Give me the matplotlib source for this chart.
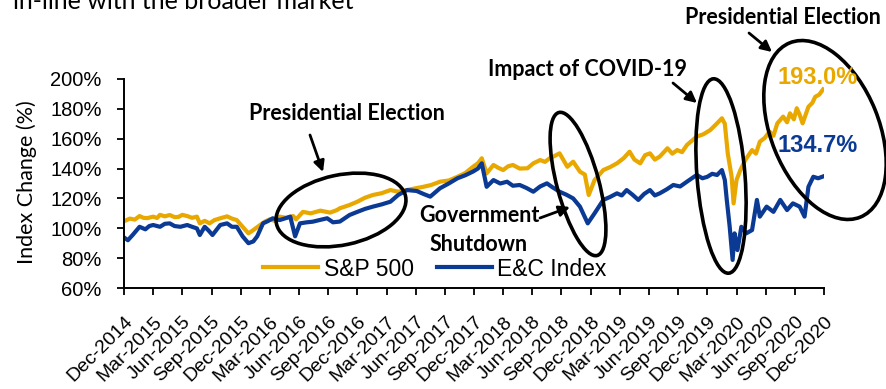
import matplotlib
matplotlib.use("Agg")
import matplotlib.pyplot as plt
import matplotlib.transforms as mtransforms
from matplotlib.patches import Ellipse
from matplotlib.ticker import FuncFormatter

# ---------------- data (x = months since Dec-2014) ----------------
tick_labels = ["Dec-2014", "Mar-2015", "Jun-2015", "Sep-2015", "Dec-2015", "Mar-2016",
               "Jun-2016", "Sep-2016", "Dec-2016", "Mar-2017", "Jun-2017", "Sep-2017",
               "Dec-2017", "Mar-2018", "Jun-2018", "Sep-2018", "Dec-2018", "Mar-2019",
               "Jun-2019", "Sep-2019", "Dec-2019", "Mar-2020", "Jun-2020", "Sep-2020",
               "Dec-2020"]

sp_months = [0.1, 0.6, 1.1, 1.6, 2.0, 2.4, 3.0, 3.4, 3.7, 4.2, 4.7, 5.2, 5.6, 6.0, 6.5,
             7.0, 7.5, 7.8, 8.3, 8.8, 9.3, 9.9, 10.6, 11.1, 11.6, 12.2, 12.8, 13.3, 14.0,
             14.5, 15.0, 15.5, 16.0, 16.7, 17.4, 17.7, 18.4, 19.2, 20.2, 21.2, 21.9, 22.2,
             23.2, 24.0, 24.8, 25.6, 26.5, 27.4, 28.2, 29.1, 30.0, 30.8, 31.6, 32.5, 33.4,
             34.3, 35.1, 35.9, 36.4, 36.8, 37.3, 38.0, 38.5, 39.0, 39.5, 40.0, 40.7, 41.5,
             42.1, 42.8, 43.3, 43.8, 44.3, 44.8, 45.6, 46.2, 46.9, 47.4, 47.8, 48.4, 49.3,
             50.0, 50.7, 51.4, 52.0, 52.5, 53.1, 53.6, 54.1, 54.6, 55.1, 55.9, 56.4, 56.9,
             57.4, 57.9, 58.9, 59.6, 60.3, 61.0, 61.5, 61.8, 62.1, 62.5, 62.7, 63.0, 63.4,
             63.9, 64.6, 65.0, 65.4, 65.9, 66.4, 66.8, 67.2, 67.8, 68.2, 68.5, 68.9, 69.2,
             69.5, 69.8, 70.4, 70.8, 71.1, 71.5, 71.9]
sp_values = [105.0, 106.5, 105.8, 108.2, 107.0, 106.8, 107.8, 106.9, 109.0, 108.0, 108.9,
             107.5, 107.6, 109.0, 108.2, 107.0, 107.8, 103.3, 105.0, 103.3, 105.5, 106.7,
             108.0, 106.5, 105.5, 101.0, 96.6, 98.8, 102.2, 104.5, 106.0, 105.0, 107.8,
             107.0, 108.2, 106.0, 111.0, 110.0, 111.8, 110.5, 112.2, 113.4, 115.6, 117.8,
             120.5, 122.3, 123.5, 125.6, 124.5, 125.6, 126.8, 127.8, 129.0, 131.2, 132.0,
             134.5, 137.0, 141.2, 143.5, 146.9, 136.8, 142.4, 140.5, 139.0, 141.5, 142.4,
             140.0, 140.2, 143.5, 145.7, 144.5, 146.9, 148.5, 150.2, 141.2, 144.6, 137.9,
             136.0, 122.3, 132.3, 139.0, 141.0, 143.5, 147.0, 151.3, 146.0, 143.5, 149.0,
             150.2, 146.0, 148.0, 153.6, 150.0, 152.4, 151.0, 155.8, 161.4, 163.0, 165.8,
             170.3, 173.7, 170.0, 150.2, 134.5, 116.7, 132.3, 139.0, 145.7, 152.4, 150.0,
             158.0, 160.5, 164.7, 162.0, 170.3, 174.8, 171.0, 177.0, 173.0, 180.4, 176.0,
             170.3, 181.4, 184.0, 188.1, 189.5, 193.0]

ec_months = [0.1, 0.4, 0.9, 1.6, 2.2, 2.6, 3.0, 3.7, 4.2, 4.7, 5.2, 5.8, 6.5, 7.0, 7.5,
             7.8, 8.3, 8.7, 9.1, 9.9, 10.6, 11.1, 11.6, 12.2, 12.8, 13.3, 13.7, 14.3, 14.8,
             15.3, 16.0, 16.5, 17.1, 17.6, 18.1, 18.8, 19.4, 20.1, 20.9, 21.5, 22.2, 23.2,
             24.0, 24.8, 25.6, 26.5, 27.4, 28.2, 29.1, 30.1, 30.8, 31.5, 32.5, 33.4, 34.3,
             35.1, 35.9, 36.4, 36.8, 37.3, 38.0, 38.7, 39.4, 40.0, 40.7, 41.4, 42.1, 42.8,
             43.5, 44.0, 44.8, 45.5, 46.2, 46.9, 47.7, 48.4, 49.3, 50.0, 50.7, 51.2, 51.7,
             52.3, 52.9, 53.5, 54.1, 54.6, 55.1, 55.8, 56.5, 57.2, 57.9, 58.9, 59.5, 60.0,
             60.5, 61.0, 61.5, 61.8, 62.0, 62.3, 62.6, 62.8, 63.1, 63.5, 64.0, 64.6, 65.1,
             65.4, 66.1, 66.8, 67.5, 68.2, 68.8, 69.5, 70.0, 70.4, 70.9, 71.4, 71.9]
ec_values = [93.4, 92.0, 95.6, 101.0, 99.3, 101.5, 102.2, 101.0, 103.0, 103.3, 101.5,
             101.0, 102.2, 101.0, 99.9, 95.5, 101.0, 98.5, 95.5, 102.2, 103.3, 101.0, 101.0,
             94.6, 90.0, 91.2, 94.6, 103.3, 104.8, 106.7, 105.5, 106.5, 107.8, 94.6, 103.3,
             104.0, 104.4, 105.5, 106.7, 104.0, 104.5, 108.9, 111.0, 113.0, 114.5, 116.0,
             117.8, 122.3, 125.6, 125.0, 123.0, 121.2, 126.8, 130.0, 133.5, 135.5, 138.0,
             140.0, 143.5, 127.8, 132.3, 130.0, 131.2, 128.5, 129.0, 127.0, 124.5, 128.0,
             130.1, 127.8, 124.5, 122.5, 120.0, 114.5, 103.3, 110.0, 119.0, 121.0, 123.4,
             122.0, 125.6, 122.5, 119.0, 123.0, 125.6, 122.0, 123.4, 126.0, 129.0, 128.0,
             131.2, 135.7, 133.5, 134.5, 136.5, 135.7, 139.0, 132.3, 119.0, 101.0, 78.8,
             96.6, 85.4, 101.0, 96.6, 98.8, 119.0, 107.8, 114.5, 111.0, 119.0, 112.2, 116.7,
             114.5, 107.8, 127.8, 134.5, 133.5, 134.7]

series_names = ["S&P 500", "E&C Index"]
end_labels = ["193.0%", "134.7%"]

GOLD = "#E9A800"
BLUE = "#0B3A94"

W, H = 887, 389
fig = plt.figure(figsize=(W / 100, H / 100), dpi=100)
ax = fig.add_axes([124 / W, 101 / H, 700 / W, 209 / H])

ax.plot(sp_months, sp_values, color=GOLD, lw=3, solid_joinstyle="round", label=series_names[0])
ax.plot(ec_months, ec_values, color=BLUE, lw=3, solid_joinstyle="round", label=series_names[1])

ax.set_xlim(0, 72)
ax.set_ylim(60, 200)
ax.set_xticks(range(0, 73, 3))
ax.set_xticklabels(tick_labels, rotation=45, ha="right", rotation_mode="anchor",
                   family="Liberation Sans", fontsize=14)
ax.set_yticks(range(60, 201, 20))
ax.yaxis.set_major_formatter(FuncFormatter(lambda v, p: f"{v:.0f}%"))
for lab in ax.get_yticklabels():
    lab.set_family("Liberation Sans")
    lab.set_fontsize(14.5)
ax.tick_params(axis="x", direction="out", length=5, width=1.3, pad=13)
ax.tick_params(axis="y", direction="out", length=5, width=1.3, pad=11)
for s in ["top", "right"]:
    ax.spines[s].set_visible(False)
for s in ["left", "bottom"]:
    ax.spines[s].set_linewidth(1.4)
    ax.spines[s].set_color("black")

leg = ax.legend(loc="center left", bbox_to_anchor=(263 / W, 1 - 269 / H),
                bbox_transform=fig.transFigure, ncol=2, frameon=False,
                prop={"family": "Liberation Sans", "size": 16.5}, handlelength=2.4,
                handletextpad=0.25, columnspacing=1.0, borderpad=0, borderaxespad=0)
for l in leg.get_lines():
    l.set_linewidth(3)

# pixel transform (origin top-left)
px = mtransforms.Affine2D().scale(1, -1).translate(0, H)

fig.text(27 / W, 1 - 182 / H, "Index Change (%)", rotation=90, ha="center", va="center",
         family="Lato", fontsize=15.5)
fig.text(13 / W, 1 - 9 / H, "in-line with the broader market", ha="left", va="baseline",
         family="Lato", fontsize=18)

bold = dict(family="Lato", fontweight="bold", fontsize=15.5, ha="center", va="center")
ann_kw = dict(arrowprops=dict(arrowstyle="-|>", color="black", lw=2, mutation_scale=16,
                              shrinkA=0, shrinkB=0))

ax.annotate("", xy=(323, 172), xycoords=px, xytext=(310, 135), textcoords=px, **ann_kw)
fig.text(347 / W, 1 - 113 / H, "Presidential Election", **bold)
ax.annotate("", xy=(697, 103), xycoords=px, xytext=(673, 83), textcoords=px, **ann_kw)
fig.text(588 / W, 1 - 70 / H, "Impact of COVID-19", **bold)
ax.annotate("", xy=(772, 52), xycoords=px, xytext=(749, 33), textcoords=px, **ann_kw)
fig.text(783 / W, 1 - 18 / H, "Presidential Election", **bold)
ax.annotate("", xy=(570, 207), xycoords=px, xytext=(540, 218), textcoords=px, **ann_kw)
fig.text(479 / W, 1 - 230 / H, "Government\nShutdown", linespacing=1.45, **bold)

fig.text(818 / W, 1 - 77 / H, end_labels[0], color=GOLD, family="Liberation Sans",
         fontweight="bold", fontsize=17, ha="center", va="center")
fig.text(818 / W, 1 - 146 / H, end_labels[1], color=BLUE, family="Liberation Sans",
         fontweight="bold", fontsize=17, ha="center", va="center")

for (cx, cy, w, h, ang) in [(341, 210, 132, 70, 12), (578, 184, 148, 42, 105),
                            (721, 176, 195, 48, 94.5), (825, 130, 188, 108, 112)]:
    e = Ellipse((cx, cy), w, h, angle=-ang, fill=False, edgecolor="black", lw=2.6,
                transform=px, clip_on=False)
    fig.add_artist(e)

fig.savefig("out.png", dpi=100)
